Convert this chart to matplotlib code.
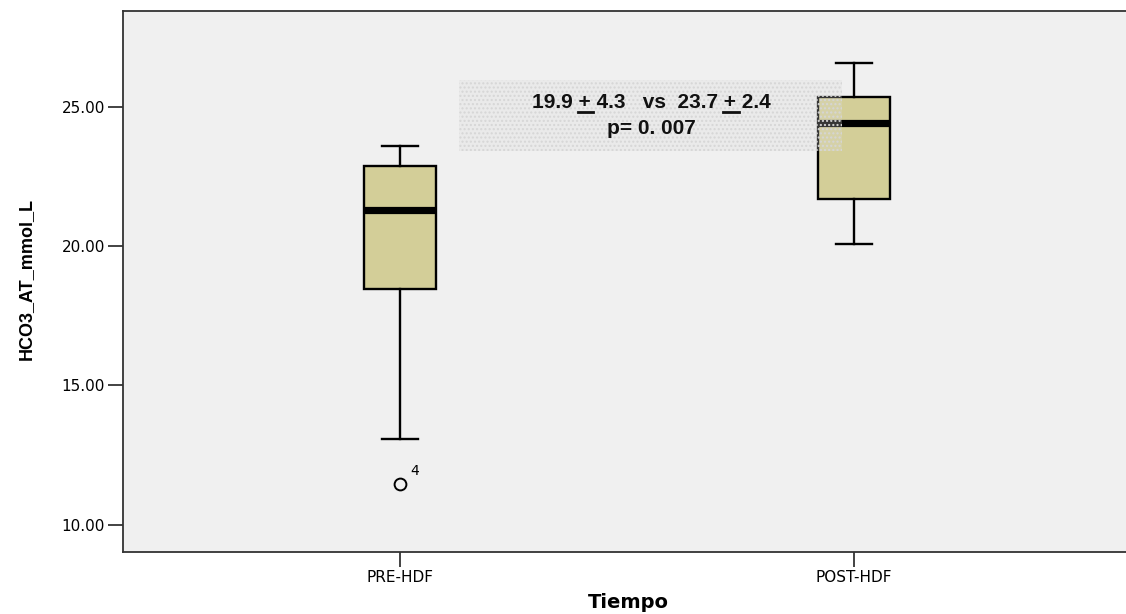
import matplotlib
matplotlib.use("Agg")
import matplotlib.pyplot as plt
from matplotlib.patches import Rectangle
from matplotlib.lines import Line2D
from matplotlib.font_manager import FontProperties

# ---- data ----
categories = ["PRE-HDF", "POST-HDF"]
whisker_low = [13.08, 20.09]
q1_values = [18.47, 21.69]
median_values = [21.30, 24.43]
q3_values = [22.89, 25.37]
whisker_high = [23.60, 26.59]
outlier_values = [[11.47], []]
outlier_labels = [["4"], []]
y_ticks = [10, 15, 20, 25]
y_tick_labels = ["10.00", "15.00", "20.00", "25.00"]
annot_line1 = "19.9 + 4.3   vs  23.7 + 2.4"
annot_line2 = "p= 0. 007"
x_label = "Tiempo"
y_label = "HCO3_AT_mmol_L"

W, H = 1126, 614
fig = plt.figure(figsize=(W / 100, H / 100), dpi=100)
fig.patch.set_facecolor("white")
ax = fig.add_axes([123 / W, 1 - 552 / H, 1008 / W, 541 / H])
ax.set_facecolor("#f0f0f0")

positions = [1, 2]
stats = []
for i, c in enumerate(categories):
    stats.append(dict(label=c, whislo=whisker_low[i], q1=q1_values[i],
                      med=median_values[i], q3=q3_values[i],
                      whishi=whisker_high[i], fliers=outlier_values[i]))

ax.bxp(stats, positions=positions, widths=0.158, capwidths=0.079,
       patch_artist=True, manage_ticks=False,
       boxprops=dict(facecolor="#d3ce98", edgecolor="black", linewidth=1.7),
       medianprops=dict(color="black", linewidth=5.2, solid_capstyle="butt"),
       whiskerprops=dict(color="black", linewidth=1.7),
       capprops=dict(color="black", linewidth=1.7),
       flierprops=dict(marker="o", markerfacecolor="none", markeredgecolor="black",
                       markersize=8.5, markeredgewidth=1.4))

for pos, vals, labs in zip(positions, outlier_values, outlier_labels):
    for v, lab in zip(vals, labs):
        ax.annotate(lab, (pos, v), xytext=(7.5, 9.5), textcoords="offset points",
                    ha="left", va="center", fontsize=10, family="DejaVu Sans")

ax.set_xlim(0.39, 2.61)
ax.set_ylim(9.02, 28.44)
ax.set_xticks(positions)
ax.set_xticklabels(categories, family="DejaVu Sans", fontsize=11)
ax.set_yticks(y_ticks)
ax.set_yticklabels(y_tick_labels, family="DejaVu Sans", fontsize=11)
ax.tick_params(axis="both", length=11, width=1.2, color="#222222", pad=2)

for s in ["left", "bottom", "top"]:
    ax.spines[s].set_color("#333333")
    ax.spines[s].set_linewidth(1.3)
ax.spines["right"].set_visible(False)

# annotation shaded box (on top of boxes, dotted texture)
rect = Rectangle((1.130, 23.42), 0.844, 2.55, facecolor=(0.86, 0.86, 0.86, 0.25),
                 edgecolor="#d6d6d6", hatch="....", linewidth=0, zorder=5)
ax.add_patch(rect)

fp = FontProperties(family="Liberation Sans", weight="bold", size=15)
t1 = ax.text(1.553, 24.95, annot_line1, ha="center", va="baseline",
             fontproperties=fp, zorder=6, color="#111111")
t2 = ax.text(1.553, 24.03, annot_line2, ha="center", va="baseline",
             fontproperties=fp, zorder=6, color="#111111")

# underline the "+" signs (plus-minus notation)
fig.canvas.draw()
renderer = fig.canvas.get_renderer()
bb = t1.get_window_extent(renderer)
def text_w(s):
    w, h, d = renderer.get_text_width_height_descent(s, fp, ismath=False)
    return w
y_ul = 1 - 111.7 / H
for idx, ch in enumerate(annot_line1):
    if ch == "+":
        x0 = bb.x0 + text_w(annot_line1[:idx])
        x1 = bb.x0 + text_w(annot_line1[:idx + 1]) + 3
        fig.add_artist(Line2D([x0 / W, x1 / W], [y_ul, y_ul], transform=fig.transFigure,
                              color="#111111", linewidth=2.0, zorder=7))

yl_fp = FontProperties(family="Liberation Sans", weight="bold", size=13)
fig.text(26 / W, 1 - 279 / H, y_label, rotation=90, ha="center", va="center",
         fontproperties=yl_fp)
fig.text(628 / W, 1 - 603 / H, x_label, ha="center", va="center",
         family="DejaVu Sans", fontweight="bold", fontsize=14)

fig.savefig("out.png", dpi=100, facecolor="white")
